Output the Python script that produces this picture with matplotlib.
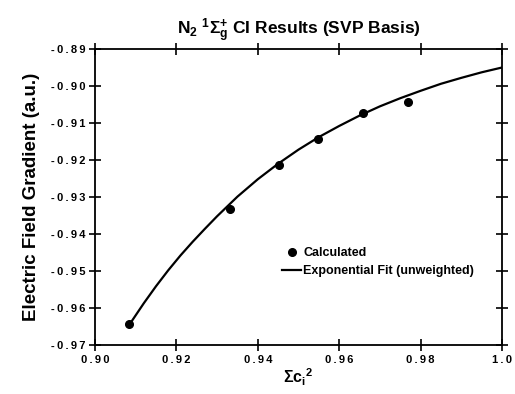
import matplotlib
matplotlib.use("Agg")
import matplotlib.pyplot as plt
from matplotlib.ticker import FixedLocator

plt.rcParams['font.family'] = ['Liberation Sans', 'DejaVu Sans']
plt.rcParams['font.weight'] = 'bold'
plt.rcParams['axes.titleweight'] = 'bold'
plt.rcParams['axes.labelweight'] = 'bold'
plt.rcParams['mathtext.fontset'] = 'custom'
plt.rcParams['mathtext.rm'] = 'Liberation Sans:bold'
plt.rcParams['mathtext.bf'] = 'Liberation Sans:bold'
plt.rcParams['mathtext.it'] = 'Liberation Sans:bold'
plt.rcParams['mathtext.default'] = 'bf'

# Calculated points
calc_x = [0.9084, 0.9332, 0.9452, 0.9548, 0.9658, 0.9770]
calc_y = [-0.9643, -0.9332, -0.9213, -0.9143, -0.9073, -0.9043]

# Exponential fit curve
fit_x = [0.909, 0.912, 0.915, 0.918, 0.921, 0.924, 0.927, 0.930, 0.935, 0.940,
         0.945, 0.950, 0.955, 0.960, 0.965, 0.970, 0.975, 0.980, 0.985, 0.990,
         0.995, 1.000]
fit_y = [-0.9636, -0.9587, -0.9541, -0.9498, -0.9458, -0.9421, -0.9386, -0.9352,
         -0.9299, -0.9252, -0.9210, -0.9172, -0.9138, -0.9108, -0.9080, -0.9055,
         -0.9033, -0.9013, -0.8994, -0.8978, -0.8963, -0.8950]

xticks = [0.90, 0.92, 0.94, 0.96, 0.98, 1.00]
xtick_labels = ["0.90", "0.92", "0.94", "0.96", "0.98", "1.0"]
yticks = [-0.97, -0.96, -0.95, -0.94, -0.93, -0.92, -0.91, -0.90, -0.89]
ytick_labels = ["-0.97", "-0.96", "-0.95", "-0.94", "-0.93", "-0.92", "-0.91", "-0.90", "-0.89"]

def spaced(s):
    return "\u2009".join(s)

fig = plt.figure(figsize=(5.15, 3.94), dpi=100)
ax = fig.add_axes([95/515, 1-345/394, (502-95)/515, (345-49)/394])

ax.plot(fit_x, fit_y, color='black', lw=1.6, label='Exponential Fit (unweighted)', zorder=2)
ax.plot(calc_x, calc_y, 'o', color='black', ms=5.5, label='Calculated', zorder=3)

ax.set_xlim(0.90, 1.00)
ax.set_ylim(-0.97, -0.89)
ax.xaxis.set_major_locator(FixedLocator(xticks))
ax.yaxis.set_major_locator(FixedLocator(yticks))
ax.set_xticklabels([spaced(s) for s in xtick_labels], fontweight='bold')
ax.set_yticklabels([spaced(s) for s in ytick_labels], fontweight='bold')
ax.tick_params(direction='inout', length=8, width=1.2, top=True, right=True,
               labelsize=8, pad=3)
for sp in ax.spines.values():
    sp.set_linewidth(1.3)

ax.set_xlabel(r"$\Sigma$c$_\mathbf{i}$$^\mathbf{2}$", fontsize=11.5, labelpad=1, fontweight='bold')
ax.set_ylabel("Electric Field Gradient (a.u.)", fontsize=13.5, labelpad=8, fontweight='bold')
ax.set_title(r"N$_\mathbf{2}$ $^\mathbf{1}\Sigma_\mathbf{g}^\mathbf{+}$ CI Results (SVP Basis)",
             fontsize=12.5, pad=10, fontweight='bold')

h, l = ax.get_legend_handles_labels()
leg = ax.legend(h[::-1], l[::-1], loc='upper left', bbox_to_anchor=(0.46, 0.33),
                frameon=False, handlelength=1.5, handletextpad=0.2,
                labelspacing=0.45, borderpad=0, borderaxespad=0,
                prop={'size': 9, 'weight': 'bold'})

fig.savefig("out.png", dpi=100)
